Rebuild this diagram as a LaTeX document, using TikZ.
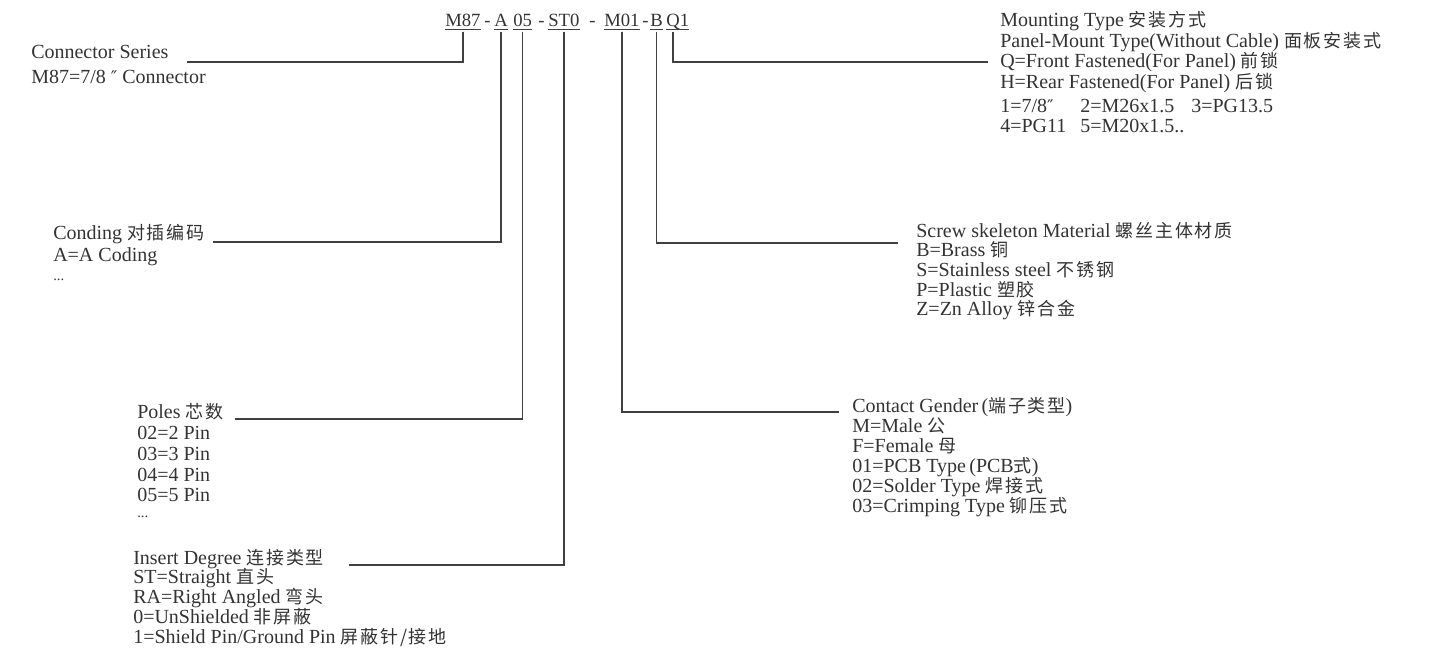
\documentclass[tikz,border=0pt]{standalone}
\usepackage{fontspec}
\setmainfont{Liberation Serif}
\newfontfamily\cjkf[Scale=0.9,LetterSpace=10]{Noto Sans CJK SC}
\newfontfamily\dvf{DejaVu Serif}
\newcommand\zh[1]{{\cjkf #1}}
\newcommand\dq{{\dvf\fontsize{13}{14}\selectfont ″}}
\definecolor{txtc}{HTML}{333333}
\definecolor{linec}{HTML}{404040}
\begin{document}
\begin{tikzpicture}[x=0.75pt,y=-0.75pt,
  every node/.style={text=txtc},
  txt/.style={anchor=base west, inner sep=0pt, font=\fontsize{15}{18}\selectfont},
  code/.style={anchor=base west, inner sep=0pt, text depth=0pt, font=\fontsize{14}{16}\selectfont},
  ln/.style={draw=linec, line width=1.1pt},
  ul/.style={draw=linec, line width=0.9pt}]
\useasboundingbox (0,0) rectangle (1432,652);

% ---- code line ----
\node[code] (m87) at (445,27) {M87};
\node[code] (d1)  at (484,27) {-};
\node[code] (a)   at (494,27) {A};
\node[code] (c05) at (513,27) {05};
\node[code] (d2)  at (538,27) {-};
\node[code] (st0) at (548,27) {ST0};
\node[code] (d3)  at (589,27) {-};
\node[code] (m01) at (604,27) {M01};
\node[code] (d4)  at (642,27) {-};
\node[code] (b)   at (650,27) {B};
\node[code] (q1)  at (666,27) {Q1};
\foreach \n in {m87,a,c05,st0,m01,b,q1}
  \draw[ul] ([yshift=-1.6pt]\n.south west) -- ([yshift=-1.6pt]\n.south east);

% ---- free ends of connectors ----
\coordinate (eCS) at (187,62);
\coordinate (eA)  at (213,242);
\coordinate (e05) at (235,419);
\coordinate (eST) at (349,565);
\coordinate (eM)  at (839,412);
\coordinate (eB)  at (898,243);
\coordinate (eQ)  at (988,62);

\draw[ln] ([yshift=-3.2pt]m87.south) |- (eCS);
\draw[ln] ([yshift=-3.2pt]a.south) |- (eA);
\draw[ln] ([yshift=-3.2pt]c05.south) |- (e05);
\draw[ln] ([yshift=-3.2pt]st0.south) |- (eST);
\draw[ln] ([yshift=-3.2pt]m01.south) |- (eM);
\draw[ln] ([yshift=-3.2pt]b.south) |- (eB);
\draw[ln] ([xshift=-3.5pt,yshift=-3.2pt]q1.south) |- (eQ);

% ---- Connector series ----
\node[txt] (cs1) at (31,59) {Connector Series};
\node[txt] (cs2) at (31,84) {M87=7/8 \dq\ Connector};

% ---- Mounting type ----
\node[txt] (mt1) at (1000,27) {Mounting Type \zh{安装方式}};
\node[txt] (mt2) at (1000,48) {Panel-Mount Type(Without Cable) \zh{面板安装式}};
\node[txt] (mt3) at (1000,68) {Q=Front Fastened(For Panel) \zh{前锁}};
\node[txt] (mt4) at (1000,89) {H=Rear Fastened(For Panel) \zh{后锁}};
\node[txt] (mt5) at (1000,113) {\makebox[60pt][l]{1=7/8\dq}\makebox[83.25pt][l]{2=M26x1.5}3=PG13.5};
\node[txt] (mt6) at (1000,133) {\makebox[60pt][l]{4=PG11}5=M20x1.5..};

% ---- Coding ----
\node[txt] (cd1) at (53,240) {Conding \zh{对插编码}};
\node[txt] (cd2) at (53,262) {A=A Coding};
\node[txt] (cd3) at (53,281) {\fontsize{11}{12}\selectfont ...};

% ---- Screw skeleton ----
\node[txt] (sk1) at (916,238) {Screw skeleton Material \zh{螺丝主体材质}};
\node[txt] (sk2) at (916,257) {B=Brass \zh{铜}};
\node[txt] (sk3) at (916,277) {S=Stainless steel \zh{不锈钢}};
\node[txt] (sk4) at (916,297) {P=Plastic \zh{塑胶}};
\node[txt] (sk5) at (916,316) {Z=Zn Alloy \zh{锌合金}};

% ---- Poles ----
\node[txt] (p1) at (137,418) {Poles \zh{芯数}};
\node[txt] (p2) at (137,439) {02=2 Pin};
\node[txt] (p3) at (137,460) {03=3 Pin};
\node[txt] (p4) at (137,481) {04=4 Pin};
\node[txt] (p5) at (137,501) {05=5 Pin};
\node[txt] (p6) at (137,517) {\fontsize{11}{12}\selectfont ...};

% ---- Contact gender ----
\node[txt] (g1) at (852,412) {Contact Gender\,(\zh{端子类型})};
\node[txt] (g2) at (852,432) {M=Male \zh{公}};
\node[txt] (g3) at (852,452) {F=Female \zh{母}};
\node[txt] (g4) at (852,472) {01=PCB Type\,(PCB\zh{式})};
\node[txt] (g5) at (852,492) {02=Solder Type \zh{焊接式}};
\node[txt] (g6) at (852,512) {03=Crimping Type \zh{铆压式}};

% ---- Insert degree ----
\node[txt] (i1) at (133,564) {Insert Degree \zh{连接类型}};
\node[txt] (i2) at (133,583) {ST=Straight \zh{直头}};
\node[txt] (i3) at (133,603) {RA=Right Angled \zh{弯头}};
\node[txt] (i4) at (133,623) {0=UnShielded \zh{非屏蔽}};
\node[txt] (i5) at (133,643) {1=Shield Pin/Ground Pin \zh{屏蔽针/接地}};
\end{tikzpicture}
\end{document}
